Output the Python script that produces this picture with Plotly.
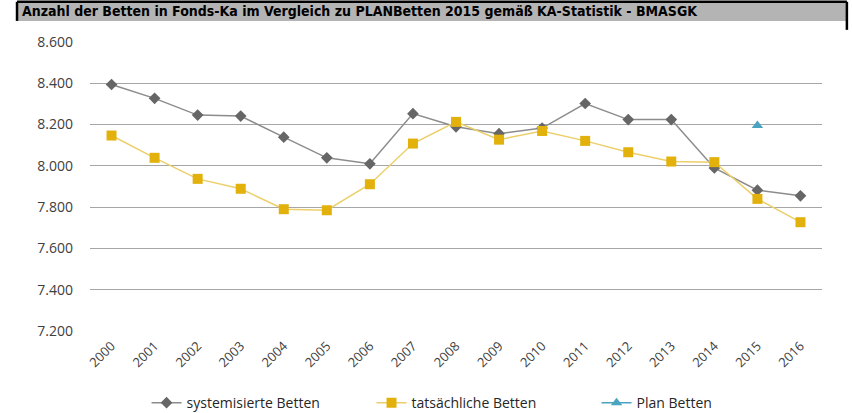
import plotly.graph_objects as go

YEARS = [str(y) for y in range(2000, 2017)]
SYSTEMISIERT = [8394, 8327, 8246, 8241, 8139, 8039, 8010, 8253, 8189, 8156, 8183,
                8302, 8224, 8224, 7990, 7882, 7855]
TATSAECHLICH = [8147, 8039, 7937, 7889, 7790, 7785, 7911, 8108, 8213, 8127, 8169,
                8121, 8066, 8021, 8018, 7840, 7727]
PLAN_YEARS = ["2015"]
PLAN = [8196]
Y_TICKS = [7200, 7400, 7600, 7800, 8000, 8200, 8400, 8600]
Y_LABELS = ["7.200", "7.400", "7.600", "7.800", "8.000", "8.200", "8.400", "8.600"]

TITLE = "Anzahl der Betten in Fonds-Ka im Vergleich zu PLANBetten 2015 gemäß KA-Statistik - BMASGK"

fig = go.Figure()
fig.add_trace(go.Scatter(
    x=YEARS, y=SYSTEMISIERT, name="systemisierte Betten", mode="lines+markers",
    line=dict(color="#8c8c8c", width=1.5),
    marker=dict(symbol="diamond", size=9, color="#666666"),
))
fig.add_trace(go.Scatter(
    x=YEARS, y=TATSAECHLICH, name="tatsächliche Betten", mode="lines+markers",
    line=dict(color="#eccf6a", width=1.5),
    marker=dict(symbol="square", size=10, color="#e2b10c"),
))
fig.add_trace(go.Scatter(
    x=PLAN_YEARS, y=PLAN, name="Plan Betten", mode="lines+markers",
    line=dict(color="#4aa3c0", width=1.5),
    marker=dict(symbol="triangle-up", size=10, color="#4aa3c0"),
))

# title bar (grey box, black border on left, top and right)
X0, X1, Y0, Y1 = -0.0997, 1.034, 1.073, 1.139
fig.add_shape(type="rect", xref="paper", yref="paper", x0=X0, x1=X1, y0=Y0, y1=Y1,
              fillcolor="#b4b4b4", line=dict(width=0), layer="below")
fig.add_shape(type="line", xref="paper", yref="paper",
              x0=X0, x1=X0, y0=Y0, y1=Y1, line=dict(color="black", width=2.5))
fig.add_shape(type="line", xref="paper", yref="paper",
              x0=X0, x1=X1, y0=Y1, y1=Y1, line=dict(color="black", width=2.5))
fig.add_shape(type="line", xref="paper", yref="paper",
              x0=X1, x1=X1, y0=1.042, y1=Y1, line=dict(color="black", width=2.5))
fig.add_annotation(text="<b>" + TITLE + "</b>", xref="paper", yref="paper", x=-0.0956, y=1.106,
                   xanchor="left", yanchor="middle", showarrow=False,
                   font=dict(family="DejaVu Sans Condensed", size=14, color="black"))

fig.update_layout(
    width=852, height=413,
    margin=dict(l=90, r=30, t=42, b=82),
    paper_bgcolor="white", plot_bgcolor="white",
    font=dict(family="Open Sans", color="#404040", size=13),
    showlegend=True,
    legend=dict(orientation="h", xref="container", x=0.172, xanchor="left",
                yref="container", y=0.024, yanchor="middle",
                entrywidth=180, font=dict(family="Open Sans", size=14, color="#262626")),
    xaxis=dict(type="category", range=[-0.5, 16.5], tickangle=-45, showgrid=False,
               ticks="", tickfont=dict(size=13), automargin=False, ticklabelstandoff=4),
    yaxis=dict(range=[7200, 8600], tickvals=Y_TICKS, ticktext=Y_LABELS,
               gridcolor="#a6a6a6", gridwidth=1, zeroline=False, ticks="",
               ticklabelstandoff=16, tickfont=dict(size=14), automargin=False),
)

# drop the browser's default 8px body margin so the figure sits at the page corner
fig.write_html("out.html", config={"displayModeBar": False},
               post_script="document.body.style.margin='0';")
